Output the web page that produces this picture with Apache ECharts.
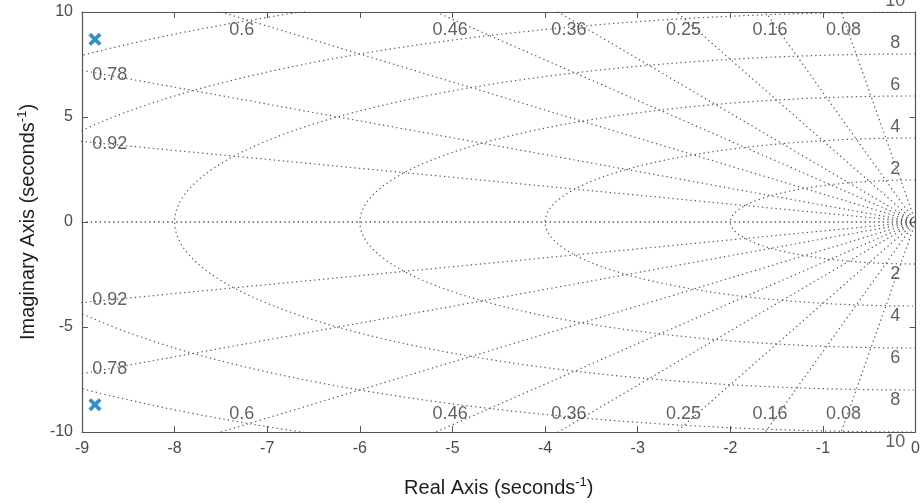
<!DOCTYPE html>
<html>
<head>
<meta charset="utf-8">
<script src="https://cdn.jsdelivr.net/npm/echarts@6/dist/echarts.min.js"></script>
<style>
html,body{margin:0;padding:0;background:#fff;}
#c{width:923px;height:503px;}
</style>
</head>
<body>
<div id="c"></div>
<script>
// ---- data ----
var poleRe = [-8.86, -8.86];
var poleIm = [8.7, -8.7];
var zetaValues = [0.08, 0.16, 0.25, 0.36, 0.46, 0.6, 0.78, 0.92];
var zetaTopLabels = ['0.08', '0.16', '0.25', '0.36', '0.46', '0.6'];
var zetaSideLabels = ['0.78', '0.92'];
var wnValues = [2, 4, 6, 8, 10, 12];
var wnLabels = ['2', '4', '6', '8', '10'];
var xTicks = [-9, -8, -7, -6, -5, -4, -3, -2, -1, 0];
var yTicks = [-10, -5, 0, 5, 10];

var GRID_COLOR = '#555555';
var dotted = { color: GRID_COLOR, width: 1.2, type: [1.3, 3.2] };

var series = [];
// damping lines (zeta), plus real axis
zetaValues.concat([1]).forEach(function (z) {
  var R = 40, s = Math.sqrt(1 - z * z);
  [1, -1].forEach(function (sg) {
    series.push({
      type: 'line', silent: true, showSymbol: false, symbol: 'none', animation: false,
      clip: true, lineStyle: dotted,
      data: [[0, 0], [-R * z, sg * R * s]]
    });
  });
});
// natural frequency circles
wnValues.forEach(function (wn) {
  var pts = [];
  for (var a = 90; a <= 270; a += 0.5) {
    var t = a * Math.PI / 180;
    pts.push([wn * Math.cos(t), wn * Math.sin(t)]);
  }
  series.push({
    type: 'line', silent: true, showSymbol: false, symbol: 'none', animation: false,
    clip: true, lineStyle: dotted, data: pts
  });
});

// grid labels
var labelPts = [];
zetaTopLabels.forEach(function (t) {
  var z = parseFloat(t), s = Math.sqrt(1 - z * z);
  var x = -9.7 * z / s;
  labelPts.push({ value: [x, 9.14], name: t });
  labelPts.push({ value: [x, -9.14], name: t });
});
zetaSideLabels.forEach(function (t) {
  var z = parseFloat(t), s = Math.sqrt(1 - z * z);
  var x = -8.7;
  var y = -x * s / z;
  labelPts.push({ value: [x, y], name: t });
  labelPts.push({ value: [x, -y], name: t });
});
wnLabels.forEach(function (t) {
  var w = parseFloat(t);
  labelPts.push({ value: [-0.22, w + 0.5], name: t });
  labelPts.push({ value: [-0.22, -(w + 0.5)], name: t });
});
series.push({
  type: 'scatter', silent: true, animation: false, clip: false,
  symbolSize: 0, z: 5,
  data: labelPts,
  label: {
    show: true, position: 'inside', formatter: function (p) { return p.name; },
    color: '#3a3a3a', fontSize: 18, fontFamily: 'Liberation Sans, Arial, sans-serif'
  }
});

// poles
series.push({
  type: 'scatter', animation: false, z: 10,
  symbol: 'path://M2,0 L5,3 L8,0 L10,2 L7,5 L10,8 L8,10 L5,7 L2,10 L0,8 L3,5 L0,2 Z',
  symbolSize: 13,
  itemStyle: { color: '#0072BD' },
  data: poleRe.map(function (r, i) { return [r, poleIm[i]]; })
});

var axisCol = '#555555';
var font = 'Liberation Sans, Arial, sans-serif';
var chart = echarts.init(document.getElementById('c'), null, { renderer: 'canvas' });
chart.setOption({
  backgroundColor: '#ffffff',
  animation: false,
  grid: { left: 82, right: 3, top: 12, bottom: 71, containLabel: false },
  xAxis: [{
    type: 'value', min: xTicks[0], max: xTicks[xTicks.length - 1], interval: 1,
    position: 'bottom',
    axisLine: { show: true, onZero: false, lineStyle: { color: axisCol, width: 1.2 } },
    axisTick: { show: true, inside: true, length: 6, lineStyle: { color: axisCol } },
    axisLabel: { color: '#4a4a4a', fontSize: 16, fontFamily: font, margin: 9,
      formatter: function (v) { return String(v); } },
    splitLine: { show: false },
    name: 'Real Axis (seconds{sup|-1})', nameLocation: 'middle', nameGap: 44,
    nameTextStyle: { color: '#1e1e1e', fontSize: 20, fontFamily: font,
      rich: { sup: { fontSize: 13, color: '#1e1e1e', fontFamily: font, padding: [0, 0, 11, 0] } } }
  }, {
    type: 'value', min: xTicks[0], max: xTicks[xTicks.length - 1], interval: 1,
    position: 'top',
    axisLine: { show: true, onZero: false, lineStyle: { color: axisCol, width: 1.2 } },
    axisTick: { show: true, inside: true, length: 6, lineStyle: { color: axisCol } },
    axisLabel: { show: false }, splitLine: { show: false }
  }],
  yAxis: [{
    type: 'value', min: yTicks[0], max: yTicks[yTicks.length - 1], interval: 5,
    position: 'left',
    axisLine: { show: true, onZero: false, lineStyle: { color: axisCol, width: 1.2 } },
    axisTick: { show: true, inside: true, length: 6, lineStyle: { color: axisCol } },
    axisLabel: { color: '#4a4a4a', fontSize: 16, fontFamily: font, margin: 9 },
    splitLine: { show: false },
    name: 'Imaginary Axis (seconds{sup|-1})', nameLocation: 'middle', nameGap: 42,
    nameTextStyle: { color: '#1e1e1e', fontSize: 20, fontFamily: font,
      rich: { sup: { fontSize: 13, color: '#1e1e1e', fontFamily: font, padding: [0, 0, 11, 0] } } }
  }, {
    type: 'value', min: yTicks[0], max: yTicks[yTicks.length - 1], interval: 5,
    position: 'right',
    axisLine: { show: true, onZero: false, lineStyle: { color: axisCol, width: 1.2 } },
    axisTick: { show: true, inside: true, length: 6, lineStyle: { color: axisCol } },
    axisLabel: { show: false }, splitLine: { show: false }
  }],
  series: series
});
</script>
</body>
</html>
